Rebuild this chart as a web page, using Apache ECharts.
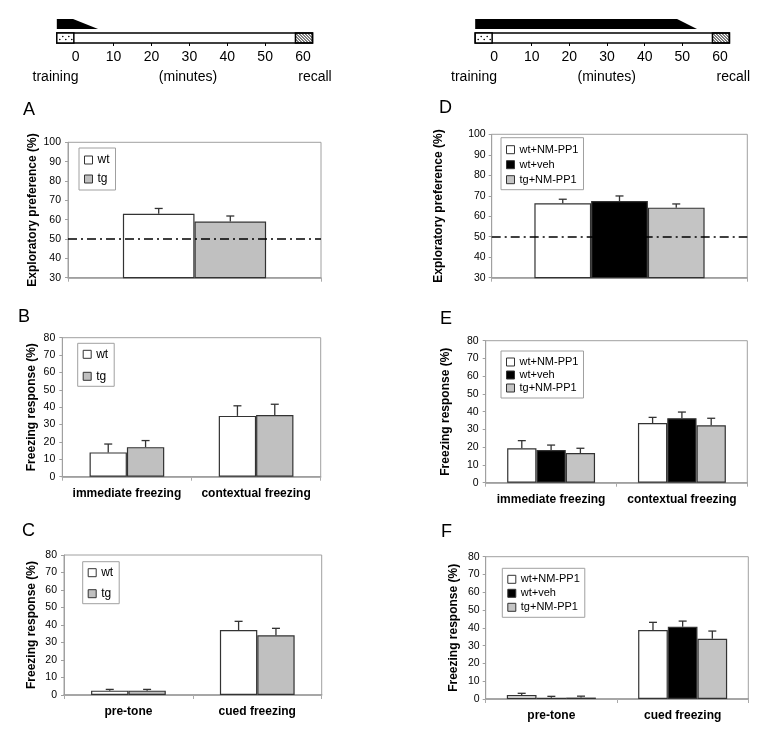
<!DOCTYPE html>
<html>
<head>
<meta charset="utf-8">
<script src="https://cdn.jsdelivr.net/npm/echarts@6/dist/echarts.min.js"></script>
<style>
html,body{margin:0;padding:0;background:#fff;}
#main{width:776px;height:739px;}
</style>
</head>
<body>
<div id="main"></div>
<script>
// ---------------- DATA ----------------
// Timeline (minutes)
const tlLabels = [0, 10, 20, 30, 40, 50, 60];
const tlMinorTicks = [10, 20, 30, 40, 50];
const tlExtent = [-5, 62.5];
const tlTrainingBox = [-5, -0.5];
const tlRecallBox = [58, 62.5];
const infusionLeft = [-5, -0.7, 5.9];    // start, end of full dose, end of taper
const infusionRight = [-5, 48.6, 53.9];

// Panel A (exploratory preference, %)
const catsA = [''];
const A_wt = [63], A_wt_err = [2.8];
const A_tg = [59], A_tg_err = [2.9];
// Panel D
const catsD = [''];
const D_wtNM = [66.3], D_wtNM_err = [2.0];
const D_wtVeh = [67.4], D_wtVeh_err = [2.5];
const D_tgNM = [64.2], D_tgNM_err = [1.8];
// Panel B (freezing, %)
const catsB = ['immediate freezing', 'contextual freezing'];
const B_wt = [14, 35], B_wt_err = [4.8, 5.8];
const B_tg = [17, 35.5], B_tg_err = [3.8, 6.2];
// Panel E
const catsE = ['immediate freezing', 'contextual freezing'];
const E_wtNM = [19.4, 33.6], E_wtNM_err = [4.3, 3.2];
const E_wtVeh = [18.4, 36.3], E_wtVeh_err = [2.8, 3.5];
const E_tgNM = [16.7, 32.3], E_tgNM_err = [2.7, 4.0];
// Panel C
const catsC = ['pre-tone', 'cued freezing'];
const C_wt = [2.5, 37.1], C_wt_err = [0.7, 5.0];
const C_tg = [2.5, 34.1], C_tg_err = [0.7, 4.0];
// Panel F
const catsF = ['pre-tone', 'cued freezing'];
const F_wtNM = [2.2, 38.8], F_wtNM_err = [1.0, 4.3];
const F_wtVeh = [0.7, 40.6], F_wtVeh_err = [0.8, 3.2];
const F_tgNM = [0.8, 33.9], F_tgNM_err = [0.8, 4.3];

const chanceLevel = 50;

// ---------------- STYLE ----------------
const FONT = 'Liberation Sans, Arial, sans-serif';
const COLORS = {
  'wt': '#ffffff', 'tg': '#c0c0c0',
  'wt+NM-PP1': '#ffffff', 'wt+veh': '#000000', 'tg+NM-PP1': '#c4c4c4'
};
const FRAME = '#a0a0a0';

const grids = [], xAxes = [], yAxes = [], series = [], legends = [], graphics = [];

function errRender(i, n, pct) {
  return function (params, api) {
    const k = api.value(0), v = api.value(1), e = api.value(2);
    const base = api.coord([k, v]);
    const top = api.coord([k, v + e]);
    const bw = api.size([1, 0])[0];
    const w = bw * pct;
    const x = base[0] + (i - (n - 1) / 2) * w;
    const st = { stroke: '#333', lineWidth: 1.3 };
    return { type: 'group', children: [
      { type: 'line', shape: { x1: x, y1: base[1], x2: x, y2: top[1] }, style: st },
      { type: 'line', shape: { x1: x - 4, y1: top[1], x2: x + 4, y2: top[1] }, style: st }
    ]};
  };
}

function addPanel(p) {
  const gi = grids.length;
  grids.push({ left: p.left, top: p.top, width: p.width, height: p.height, show: true,
    borderColor: FRAME, borderWidth: 1, backgroundColor: 'transparent' });
  xAxes.push({ type: 'category', gridIndex: gi, data: p.cats,
    axisLine: { show: true, lineStyle: { color: '#999', width: 1.5 } },
    axisTick: { show: true, length: 4, lineStyle: { color: '#aaa' } },
    axisLabel: { show: true, interval: 0, hideOverlap: false, margin: p.labelMargin, fontFamily: FONT, fontSize: 12, fontWeight: 'bold', color: '#000' },
    splitLine: { show: false } });
  yAxes.push({ type: 'value', gridIndex: gi, min: p.min, max: p.max, interval: 10,
    axisLine: { show: true, lineStyle: { color: FRAME } },
    axisTick: { show: true, length: 3, lineStyle: { color: FRAME } },
    axisLabel: { fontFamily: FONT, fontSize: 10.5, color: '#000', margin: p.tickMargin },
    splitLine: { show: false },
    name: p.yName, nameLocation: 'middle', nameRotate: 90, nameGap: p.nameGap,
    nameTextStyle: { fontFamily: FONT, fontSize: 12, fontWeight: 'bold', color: '#000' } });
  const n = p.series.length;
  p.series.forEach((s, i) => {
    const bar = { type: 'bar', name: s.name, xAxisIndex: gi, yAxisIndex: gi, data: s.values,
      barWidth: p.barPct + '%', barGap: '0%',
      itemStyle: { color: COLORS[s.name], borderColor: '#333', borderWidth: 1.2 },
      z: 2, silent: true };
    if (i === 0 && p.threshold != null) {
      bar.markLine = { silent: true, symbol: 'none', label: { show: false },
        lineStyle: { color: '#000', width: 1.5, type: [9, 4, 2, 4] },
        data: [{ yAxis: p.threshold }], z: 5 };
    }
    series.push(bar);
    series.push({ type: 'custom', xAxisIndex: gi, yAxisIndex: gi, z: 3, silent: true,
      data: s.values.map((v, k) => [k, v, s.errs[k]]),
      renderItem: errRender(i, n, p.barPct / 100) });
  });
  legends.push({ data: p.series.map(s => s.name), orient: 'vertical',
    left: p.lg.left, top: p.lg.top, padding: p.lg.padding, itemGap: p.lg.gap,
    itemWidth: 8, itemHeight: 8, icon: 'rect', selectedMode: false,
    borderColor: FRAME, borderWidth: 1,
    itemStyle: { borderColor: '#333', borderWidth: 1 },
    textStyle: { fontFamily: FONT, fontSize: p.lg.fontSize, color: '#000', lineHeight: 12 } });
  graphics.push({ type: 'text', x: p.letter[0], y: p.letter[1],
    style: { text: p.letter[2], font: '18px ' + FONT, fill: '#000', textVerticalAlign: 'top' } });
}

function addTimeline(t) {
  const gi = grids.length;
  grids.push({ left: t.left, top: 15, width: t.width, height: 28, show: false });
  xAxes.push({ type: 'value', gridIndex: gi, min: tlExtent[0], max: tlExtent[1],
    axisLine: { show: false },
    axisTick: { show: true, customValues: tlMinorTicks, length: 3, lineStyle: { color: '#000' } },
    axisLabel: { show: true, customValues: tlLabels, margin: 7, fontFamily: FONT, fontSize: 14, color: '#000' },
    splitLine: { show: false } });
  yAxes.push({ type: 'value', gridIndex: gi, min: 0, max: 1, show: false });
  const inf = t.infusion;
  series.push({ type: 'custom', xAxisIndex: gi, yAxisIndex: gi, silent: true, data: [[0, 0]],
    renderItem: function (params, api) {
      const cs = params.coordSys;
      const X = v => api.coord([v, 0])[0];
      const wy0 = cs.y + 4, wy1 = cs.y + 14, by0 = cs.y + 18, by1 = cs.y + 28;
      const children = [];
      children.push({ type: 'polygon', shape: { points: [[X(inf[0]), wy0], [X(inf[1]), wy0], [X(inf[2]), wy1], [X(inf[0]), wy1]] },
        style: { fill: '#000' } });
      children.push({ type: 'rect', shape: { x: X(tlExtent[0]), y: by0, width: X(tlExtent[1]) - X(tlExtent[0]), height: by1 - by0 },
        style: { fill: '#fff', stroke: '#000', lineWidth: 1.5 } });
      // training box with dots
      const tx0 = X(tlTrainingBox[0]), tx1 = X(tlTrainingBox[1]);
      children.push({ type: 'rect', shape: { x: tx0, y: by0, width: tx1 - tx0, height: by1 - by0 },
        style: { fill: '#fff', stroke: '#000', lineWidth: 1.5 } });
      for (let x = tx0 + 3, r = 0; x < tx1 - 1; x += 3, r++) {
        children.push({ type: 'circle', shape: { cx: x, cy: by0 + (r % 2 ? 3.5 : 6.5), r: 0.8 }, style: { fill: '#000' } });
      }
      // recall box with hatching
      const rx0 = X(tlRecallBox[0]), rx1 = X(tlRecallBox[1]);
      const hatch = [];
      for (let d = -12; d < rx1 - rx0 + 12; d += 3) {
        hatch.push({ type: 'line', shape: { x1: rx0 + d, y1: by0, x2: rx0 + d + 10, y2: by1 }, style: { stroke: '#000', lineWidth: 1 } });
      }
      children.push({ type: 'group', children: hatch,
        clipPath: { type: 'rect', shape: { x: rx0, y: by0, width: rx1 - rx0, height: by1 - by0 } } });
      children.push({ type: 'rect', shape: { x: rx0, y: by0, width: rx1 - rx0, height: by1 - by0 },
        style: { fill: 'none', stroke: '#000', lineWidth: 1.5 } });
      return { type: 'group', children: children };
    } });
  t.texts.forEach(tx => graphics.push({ type: 'text', x: tx[1], y: 77,
    style: { text: tx[0], font: '14px ' + FONT, fill: '#000', textAlign: 'center', textVerticalAlign: 'middle' } }));
}

addTimeline({ left: 56.8, width: 255.7, infusion: infusionLeft,
  texts: [['training', 55.5], ['(minutes)', 188], ['recall', 315]] });
addTimeline({ left: 475.2, width: 254.2, infusion: infusionRight,
  texts: [['training', 474], ['(minutes)', 606.7], ['recall', 733.3]] });

addPanel({ left: 68, top: 142.3, width: 253, height: 135.4, cats: catsA, min: 30, max: 100,
  yName: 'Exploratory preference (%)', nameGap: 29, tickMargin: 7, labelMargin: 10, barPct: 28.3, threshold: chanceLevel,
  series: [{ name: 'wt', values: A_wt, errs: A_wt_err }, { name: 'tg', values: A_tg, errs: A_tg_err }],
  lg: { left: 79, top: 148, padding: [6, 6, 5, 5], gap: 7, fontSize: 12 }, letter: [23, 101, 'A'] });
addPanel({ left: 491.7, top: 134.3, width: 255.6, height: 143.4, cats: catsD, min: 30, max: 100,
  yName: 'Exploratory preference (%)', nameGap: 47, tickMargin: 6, labelMargin: 10, barPct: 22.2, threshold: chanceLevel,
  series: [{ name: 'wt+NM-PP1', values: D_wtNM, errs: D_wtNM_err }, { name: 'wt+veh', values: D_wtVeh, errs: D_wtVeh_err },
           { name: 'tg+NM-PP1', values: D_tgNM, errs: D_tgNM_err }],
  lg: { left: 501, top: 137.7, padding: [6, 5, 4, 5], gap: 3, fontSize: 11 }, letter: [439, 99, 'D'] });
addPanel({ left: 62.3, top: 337.7, width: 258.4, height: 139, cats: catsB, min: 0, max: 80,
  yName: 'Freezing response (%)', nameGap: 25, tickMargin: 7, labelMargin: 11, barPct: 28.9,
  series: [{ name: 'wt', values: B_wt, errs: B_wt_err }, { name: 'tg', values: B_tg, errs: B_tg_err }],
  lg: { left: 77.7, top: 343.3, padding: [5, 6, 4, 5], gap: 10, fontSize: 12 }, letter: [18, 308, 'B'] });
addPanel({ left: 485.7, top: 340.7, width: 261.6, height: 142, cats: catsE, min: 0, max: 80,
  yName: 'Freezing response (%)', nameGap: 34, tickMargin: 7, labelMargin: 11, barPct: 22.4,
  series: [{ name: 'wt+NM-PP1', values: E_wtNM, errs: E_wtNM_err }, { name: 'wt+veh', values: E_wtVeh, errs: E_wtVeh_err },
           { name: 'tg+NM-PP1', values: E_tgNM, errs: E_tgNM_err }],
  lg: { left: 501, top: 351, padding: [5, 5, 4, 5], gap: 1, fontSize: 11 }, letter: [440, 310, 'E'] });
addPanel({ left: 64, top: 555, width: 257.7, height: 140, cats: catsC, min: 0, max: 80,
  yName: 'Freezing response (%)', nameGap: 26, tickMargin: 7, labelMargin: 11, barPct: 29,
  series: [{ name: 'wt', values: C_wt, errs: C_wt_err }, { name: 'tg', values: C_tg, errs: C_tg_err }],
  lg: { left: 82.7, top: 561.7, padding: [5, 6, 4, 5], gap: 9, fontSize: 12 }, letter: [22, 522, 'C'] });
addPanel({ left: 485.7, top: 556.7, width: 262.6, height: 142.3, cats: catsF, min: 0, max: 80,
  yName: 'Freezing response (%)', nameGap: 26, tickMargin: 6, labelMargin: 11, barPct: 22.6,
  series: [{ name: 'wt+NM-PP1', values: F_wtNM, errs: F_wtNM_err }, { name: 'wt+veh', values: F_wtVeh, errs: F_wtVeh_err },
           { name: 'tg+NM-PP1', values: F_tgNM, errs: F_tgNM_err }],
  lg: { left: 502.3, top: 568.3, padding: [5, 5, 4, 5], gap: 2, fontSize: 11 }, letter: [441, 523, 'F'] });

const chart = echarts.init(document.getElementById('main'));
chart.setOption({
  animation: false,
  backgroundColor: '#fff',
  grid: grids, xAxis: xAxes, yAxis: yAxes, series: series, legend: legends,
  graphic: graphics
});
</script>
</body>
</html>
